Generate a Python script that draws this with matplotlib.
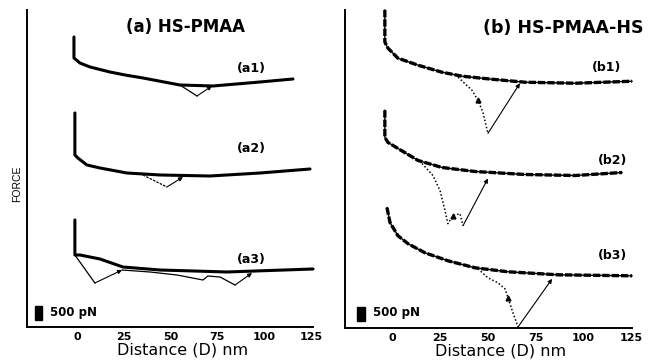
import matplotlib
matplotlib.use("Agg")
import matplotlib.pyplot as plt
from matplotlib.patches import Rectangle

# ---------------- data (distance in nm, force in pN relative to each curve's baseline)
tick_values = [0, 25, 50, 75, 100, 125]
tick_labels = ["0", "25", "50", "75", "100", "125"]

# Panel (a) HS-PMAA
a1_app_x = [-1.6, -1.6, 1.6, 7.0, 17.6, 25.7, 35.3, 55.0, 72.7, 97.9, 115.5]
a1_app_f = [1500, 750, 571, 428, 250, 143, 36, -214, -250, -107, 0]
a1_ret_x = [55.0, 64.2, 72.2]
a1_ret_f = [-214, -607, -250]

a2_app_x = [-1.1, -1.1, 0.5, 5.3, 12.3, 26.7, 44.4, 71.1, 97.9, 124.6]
a2_app_f = [2000, 500, 393, 143, 36, -143, -214, -250, -143, 0]
a2_ret_x = [35.3, 48.1, 56.7]
a2_ret_f = [-214, -643, -286]

a3_app_x = [-1.1, -1.1, 1.6, 12.3, 24.6, 44.4, 80.2, 126.2]
a3_app_f = [1786, 536, 536, 393, 107, 0, -71, 36]
a3_ret_x = [-1.1, 9.6, 24.1, 39.0, 53.5, 67.4, 70.0, 76.5, 84.5, 93.6]
a3_ret_f = [536, -464, 0, -71, -179, -357, -214, -250, -536, -107]

# Panel (b) HS-PMAA-HS
b1_app_x = [-3.7, -3.7, -2.1, 3.1, 13.6, 26.1, 36.6, 52.2, 69.5, 95.6, 125.3]
b1_app_f = [2536, 1393, 1179, 821, 571, 321, 179, 71, -36, -71, 0]
b1_ret_x = [34.5, 41.8, 44.9, 47.5, 50.1, 66.8]
b1_ret_f = [143, -321, -679, -1107, -1857, -71]

b2_app_x = [-3.7, -3.7, -2.1, 3.1, 13.6, 26.1, 43.3, 69.5, 95.6, 120.1]
b2_app_f = [2214, 1250, 1071, 857, 429, 179, 36, -71, -107, 0]
b2_ret_x = [15.7, 21.4, 25.1, 27.7, 29.2, 31.9, 35.5, 37.1, 50.1]
b2_ret_f = [321, -107, -643, -1357, -1821, -1536, -1464, -1893, -214]

b3_app_x = [-2.6, -1.0, 3.1, 8.4, 17.2, 29.2, 43.3, 60.6, 86.7, 125.3]
b3_app_f = [2429, 1893, 1429, 1143, 821, 536, 286, 143, 36, 0]
b3_ret_x = [44.9, 50.1, 55.4, 59.0, 60.6, 63.2, 65.8, 83.6]
b3_ret_f = [250, -71, -250, -464, -786, -1321, -1821, -107]

curve_names_a = ["(a1)", "(a2)", "(a3)"]
curve_names_b = ["(b1)", "(b2)", "(b3)"]
scale_bar_pN = 500

# ---------------- layout / style
FORCE_MAX = 11317
offsets_a = [8854, 5641, 2035]
offsets_b = [8782, 5534, 1857]
label_pos_a = [(93, 9246), (93, 6390), (93, 2392)]
label_pos_b = [(112, 9282), (115, 5962), (115, 2570)]

fig = plt.figure(figsize=(6.48, 3.6), dpi=100)
fig.patch.set_facecolor("white")

axA = fig.add_axes([27/648, 33/360, 286/648, 317/360])
axB = fig.add_axes([345/648, 32/360, 287/648, 318/360])


def style_axes(ax, xlim):
    ax.set_xlim(*xlim)
    ax.set_ylim(0, FORCE_MAX)
    for s in ["top", "right"]:
        ax.spines[s].set_visible(False)
    for s in ["left", "bottom"]:
        ax.spines[s].set_linewidth(1.4)
        ax.spines[s].set_color("black")
    ax.set_yticks([])
    ax.set_xticks(tick_values)
    ax.set_xticklabels(tick_labels, fontsize=8, fontweight="bold",
                       family="DejaVu Sans")
    ax.tick_params(axis="x", length=0, pad=3.5)
    ax.text(0.543, -0.072, "Distance (D) nm", transform=ax.transAxes,
            ha="center", va="center", fontsize=11.5, family="DejaVu Sans")


def jump(ax, x0, y0, x1, y1):
    ax.annotate("", xy=(x1, y1), xytext=(x0, y0),
                arrowprops=dict(arrowstyle="-|>", lw=0.8, color="black",
                                mutation_scale=6, shrinkA=0, shrinkB=0))


style_axes(axA, (-26.7, 126.2))
style_axes(axB, (-24.5, 125.3))

# ---- panel (a)
apps_a = [(a1_app_x, a1_app_f), (a2_app_x, a2_app_f), (a3_app_x, a3_app_f)]
for (xs, fs), off in zip(apps_a, offsets_a):
    axA.plot(xs, [f + off for f in fs], color="black", lw=2.2,
             solid_capstyle="round", solid_joinstyle="round", clip_on=False)

# a1 retraction
o = offsets_a[0]
axA.plot(a1_ret_x[:2], [f + o for f in a1_ret_f[:2]], color="black", lw=0.9)
jump(axA, a1_ret_x[1], a1_ret_f[1] + o, a1_ret_x[2], a1_ret_f[2] + o)
# a2 retraction
o = offsets_a[1]
axA.plot(a2_ret_x[:2], [f + o for f in a2_ret_f[:2]], color="black", lw=0.9,
         ls=(0, (2, 1)))
jump(axA, a2_ret_x[1], a2_ret_f[1] + o, a2_ret_x[2], a2_ret_f[2] + o)
# a3 retraction
o = offsets_a[2]
axA.plot(a3_ret_x[:2], [f + o for f in a3_ret_f[:2]], color="black", lw=0.9)
jump(axA, a3_ret_x[1], a3_ret_f[1] + o, a3_ret_x[2], a3_ret_f[2] + o)
axA.plot(a3_ret_x[2:9], [f + o for f in a3_ret_f[2:9]], color="black", lw=0.9)
jump(axA, a3_ret_x[8], a3_ret_f[8] + o, a3_ret_x[9], a3_ret_f[9] + o)

for name, (lx, ly) in zip(curve_names_a, label_pos_a):
    axA.text(lx, ly, name, ha="center", va="center", fontsize=9,
             fontweight="bold", family="DejaVu Sans")

# ---- panel (b)
apps_b = [(b1_app_x, b1_app_f), (b2_app_x, b2_app_f), (b3_app_x, b3_app_f)]
for (xs, fs), off in zip(apps_b, offsets_b):
    ys = [f + off for f in fs]
    axB.plot(xs, ys, color="black", lw=2.4, ls=(0, (2.2, 0.6)), clip_on=False)
    axB.plot(xs, ys, color="black", lw=1.0, clip_on=False)

rets_b = [(b1_ret_x, b1_ret_f), (b2_ret_x, b2_ret_f), (b3_ret_x, b3_ret_f)]
mark_idx = [2, 5, 4]
for (xs, fs), off, mi in zip(rets_b, offsets_b, mark_idx):
    ys = [f + off for f in fs]
    axB.plot(xs[:-1], ys[:-1], color="black", lw=1.1, ls=(0, (1, 1.4)))
    axB.plot([xs[mi]], [ys[mi]], marker="^", ms=3.5, color="black")
    jump(axB, xs[-2], ys[-2], xs[-1], ys[-1])

for name, (lx, ly) in zip(curve_names_b, label_pos_b):
    axB.text(lx, ly, name, ha="center", va="center", fontsize=9,
             fontweight="bold", family="DejaVu Sans")

# ---- scale bars
for ax, bx, bw, tx in [(axA, -22.5, 3.8, -14.4), (axB, -18.3, 4.2, -9.9)]:
    ax.add_patch(Rectangle((bx, 250), bw, scale_bar_pN, color="black",
                           clip_on=False))
    ax.text(tx, 535, f"{scale_bar_pN} pN", ha="left", va="center",
            fontsize=8.5, fontweight="bold", family="DejaVu Sans")

# ---- titles and axis label
fig.text(185/648, 1 - 27/360, "(a) HS-PMAA", ha="center", va="center",
         fontsize=12, fontweight="bold", family="DejaVu Sans")
fig.text(483/648, 1 - 28/360, "(b) HS-PMAA-HS", ha="left", va="center",
         fontsize=12.5, fontweight="bold", family="DejaVu Sans")
fig.text(17/648, 1 - 184/360, "FORCE", rotation=90, ha="center",
         va="center", fontsize=7.5, family="Liberation Sans")

fig.savefig("out.png", dpi=100, facecolor="white")
